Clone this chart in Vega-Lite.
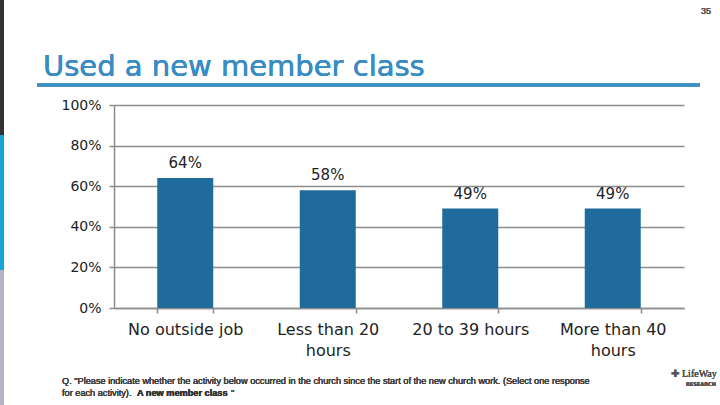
{
  "$schema": "https://vega.github.io/schema/vega-lite/v6.json",
  "width": 570,
  "height": 203,
  "autosize": {"type": "none"},
  "padding": {"left": 114, "top": 105, "right": 36, "bottom": 97},
  "background": "white",
  "config": {"view": {"stroke": null}, "font": "DejaVu Sans"},
  "data": {
    "values": [
      {"category": "No outside job", "pct": 0.64},
      {"category": "Less than 20 hours", "pct": 0.58},
      {"category": "20 to 39 hours", "pct": 0.49},
      {"category": "More than 40 hours", "pct": 0.49}
    ]
  },
  "layer": [
    {
      "mark": {"type": "bar", "color": "#1f6b9b"},
      "encoding": {
        "x": {
          "field": "category",
          "type": "nominal",
          "sort": null,
          "scale": {"paddingInner": 0.607, "paddingOuter": 0.3035},
          "axis": {
            "title": null,
            "tickBand": "extent",
            "domainColor": "#8c8c8c",
            "domainWidth": 1.5,
            "tickColor": "#8c8c8c",
            "tickSize": 5,
            "tickWidth": 1.5,
            "labelAngle": 0,
            "labelFontSize": 16,
            "labelColor": "#222222",
            "labelPadding": 8,
            "labelLineHeight": 21,
            "labelBaseline": "top",
            "labelExpr": "datum.label == 'Less than 20 hours' ? ['Less than 20', 'hours'] : datum.label == 'More than 40 hours' ? ['More than 40', 'hours'] : datum.label"
          }
        },
        "y": {
          "field": "pct",
          "type": "quantitative",
          "scale": {"domain": [0, 1], "nice": false},
          "axis": {
            "title": null,
            "values": [0, 0.2, 0.4, 0.6, 0.8, 1],
            "format": ".0%",
            "grid": true,
            "gridColor": "#8c8c8c",
            "gridWidth": 1.5,
            "domain": true,
            "domainColor": "#8c8c8c",
            "domainWidth": 1.5,
            "tickColor": "#8c8c8c",
            "tickSize": 5,
            "tickWidth": 1.5,
            "labelFontSize": 14,
            "labelColor": "#222222",
            "labelPadding": 8
          }
        }
      }
    },
    {
      "mark": {"type": "text", "dy": -10, "baseline": "alphabetic", "fontSize": 15, "color": "#222222"},
      "encoding": {
        "x": {
          "field": "category",
          "type": "nominal",
          "sort": null,
          "scale": {"paddingInner": 0.607, "paddingOuter": 0.3035},
          "axis": null
        },
        "y": {"field": "pct", "type": "quantitative", "scale": {"domain": [0, 1], "nice": false}, "axis": null},
        "text": {"field": "pct", "type": "quantitative", "format": ".0%"}
      }
    },
    {
      "mark": {"type": "text", "align": "left", "baseline": "alphabetic", "fontSize": 29, "color": "#3a8dc4", "font": "DejaVu Sans"},
      "encoding": {
        "x": {"datum": -71, "type": "quantitative", "scale": {"domain": [0, 570], "nice": false, "zero": false}, "axis": null},
        "y": {"datum": 1.1429, "type": "quantitative", "scale": {"domain": [0, 1], "nice": false}, "axis": null},
        "text": {"value": "Used a new member class"}
      }
    },
    {
      "mark": {"type": "text", "align": "center", "baseline": "alphabetic", "fontSize": 9, "color": "#555555", "font": "Liberation Sans"},
      "encoding": {
        "x": {"datum": 592, "type": "quantitative", "scale": {"domain": [0, 570], "nice": false, "zero": false}, "axis": null},
        "y": {"datum": 1.4483, "type": "quantitative", "scale": {"domain": [0, 1], "nice": false}, "axis": null},
        "text": {"value": "35"}
      }
    },
    {
      "mark": {"type": "rule", "color": "#3c8fc2", "strokeWidth": 3},
      "encoding": {
        "x": {"datum": -77, "type": "quantitative", "scale": {"domain": [0, 570], "nice": false, "zero": false}, "axis": null},
        "x2": {"datum": 586},
        "y": {"datum": 1.0985, "type": "quantitative", "scale": {"domain": [0, 1], "nice": false}, "axis": null}
      }
    },
    {
      "mark": {"type": "rect", "color": "#333333"},
      "encoding": {
        "x": {"datum": -114, "type": "quantitative", "scale": {"domain": [0, 570], "nice": false, "zero": false}, "axis": null},
        "x2": {"datum": -110},
        "y": {"datum": 1.5172, "type": "quantitative", "scale": {"domain": [0, 1], "nice": false}, "axis": null},
        "y2": {"datum": 0.8522}
      }
    },
    {
      "mark": {"type": "rect", "color": "#1aa3d9"},
      "encoding": {
        "x": {"datum": -114, "type": "quantitative", "scale": {"domain": [0, 570], "nice": false, "zero": false}, "axis": null},
        "x2": {"datum": -110},
        "y": {"datum": 0.8522, "type": "quantitative", "scale": {"domain": [0, 1], "nice": false}, "axis": null},
        "y2": {"datum": 0.1872}
      }
    },
    {
      "mark": {"type": "rect", "color": "#b3b3c8"},
      "encoding": {
        "x": {"datum": -114, "type": "quantitative", "scale": {"domain": [0, 570], "nice": false, "zero": false}, "axis": null},
        "x2": {"datum": -110},
        "y": {"datum": 0.1872, "type": "quantitative", "scale": {"domain": [0, 1], "nice": false}, "axis": null},
        "y2": {"datum": -0.4778}
      }
    },
    {
      "mark": {"type": "text", "align": "left", "baseline": "alphabetic", "fontSize": 9.2, "color": "#444444", "font": "Liberation Sans"},
      "encoding": {
        "x": {"datum": -52, "type": "quantitative", "scale": {"domain": [0, 570], "nice": false, "zero": false}, "axis": null},
        "y": {"datum": -0.3744, "type": "quantitative", "scale": {"domain": [0, 1], "nice": false}, "axis": null},
        "text": {"value": "Q. \"Please indicate whether the activity below occurred in the church since the start of the new church work. (Select one response"}
      }
    },
    {
      "mark": {"type": "text", "align": "left", "baseline": "alphabetic", "fontSize": 9.2, "color": "#444444", "font": "Liberation Sans"},
      "encoding": {
        "x": {"datum": -52, "type": "quantitative", "scale": {"domain": [0, 570], "nice": false, "zero": false}, "axis": null},
        "y": {"datum": -0.4335, "type": "quantitative", "scale": {"domain": [0, 1], "nice": false}, "axis": null},
        "text": {"value": "for each activity)."}
      }
    },
    {
      "mark": {"type": "text", "align": "left", "baseline": "alphabetic", "fontSize": 9.2, "fontWeight": "bold", "color": "#333333", "font": "Liberation Sans"},
      "encoding": {
        "x": {"datum": 23, "type": "quantitative", "scale": {"domain": [0, 570], "nice": false, "zero": false}, "axis": null},
        "y": {"datum": -0.4335, "type": "quantitative", "scale": {"domain": [0, 1], "nice": false}, "axis": null},
        "text": {"value": "A new member class"}
      }
    },
    {
      "mark": {"type": "text", "align": "left", "baseline": "alphabetic", "fontSize": 9.2, "color": "#444444", "font": "Liberation Sans"},
      "encoding": {
        "x": {"datum": 117, "type": "quantitative", "scale": {"domain": [0, 570], "nice": false, "zero": false}, "axis": null},
        "y": {"datum": -0.4335, "type": "quantitative", "scale": {"domain": [0, 1], "nice": false}, "axis": null},
        "text": {"value": "\""}
      }
    },
    {
      "mark": {"type": "text", "align": "left", "baseline": "alphabetic", "fontSize": 10, "font": "Liberation Serif", "color": "#555555"},
      "encoding": {
        "x": {"datum": 568, "type": "quantitative", "scale": {"domain": [0, 570], "nice": false, "zero": false}, "axis": null},
        "y": {"datum": -0.34, "type": "quantitative", "scale": {"domain": [0, 1], "nice": false}, "axis": null},
        "text": {"value": "LifeWay"}
      }
    },
    {
      "mark": {"type": "text", "align": "left", "baseline": "alphabetic", "fontSize": 5, "fontWeight": "bold", "color": "#555555"},
      "encoding": {
        "x": {"datum": 572, "type": "quantitative", "scale": {"domain": [0, 570], "nice": false, "zero": false}, "axis": null},
        "y": {"datum": -0.386, "type": "quantitative", "scale": {"domain": [0, 1], "nice": false}, "axis": null},
        "text": {"value": "RESEARCH"}
      }
    },
    {
      "mark": {"type": "text", "align": "left", "baseline": "alphabetic", "fontSize": 10, "color": "#555555"},
      "encoding": {
        "x": {"datum": 557, "type": "quantitative", "scale": {"domain": [0, 570], "nice": false, "zero": false}, "axis": null},
        "y": {"datum": -0.34, "type": "quantitative", "scale": {"domain": [0, 1], "nice": false}, "axis": null},
        "text": {"value": "✚"}
      }
    }
  ],
  "resolve": {"scale": {"x": "independent", "y": "independent"}}
}
